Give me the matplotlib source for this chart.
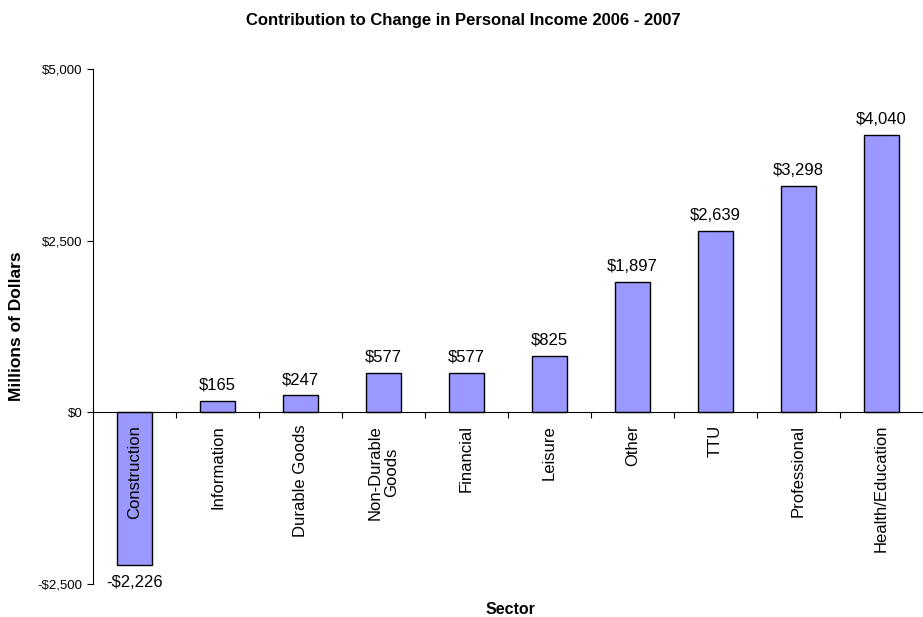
import matplotlib.pyplot as plt
import numpy as np

plt.rcParams['font.family'] = ['Liberation Sans', 'DejaVu Sans']

# data
sectors = ["Construction", "Information", "Durable Goods", "Non-Durable\nGoods",
           "Financial", "Leisure", "Other", "TTU", "Professional", "Health/Education"]
change = [-2226, 165, 247, 577, 577, 825, 1897, 2639, 3298, 4040]
y_ticks = [-2500, 0, 2500, 5000]

fig = plt.figure(figsize=(9.23, 6.17), dpi=100)
ax = fig.add_axes([93 / 923, 1 - 584 / 617, 1 - 93 / 923, (584 - 69) / 617])

x = np.arange(len(sectors))
ax.bar(x, change, width=0.41, color="#9999FF", edgecolor="black", linewidth=1.0, zorder=1)

for xi, v in zip(x, change):
    txt = f"${v:,}" if v >= 0 else f"-${-v:,}"
    if v >= 0:
        ax.annotate(txt, (xi, v), xytext=(0, 6), textcoords="offset points",
                    ha="center", va="bottom", fontsize=12)
    else:
        ax.annotate(txt, (xi, v), xytext=(0, -7), textcoords="offset points",
                    ha="center", va="top", fontsize=12)

ax.set_xlim(-0.5, (923 - 93) / 83.8 - 0.5)
ax.set_ylim(-2500, 5000)
ax.set_yticks(y_ticks)
ax.set_yticklabels(["-$2,500", "$0", "$2,500", "$5,000"])
ax.tick_params(axis="y", direction="out", length=4, labelsize=9.5, width=0.8)

# category axis sits on the zero line
ax.spines["bottom"].set_position(("data", 0))
ax.spines["top"].set_visible(False)
ax.spines["right"].set_visible(False)
ax.spines["left"].set_linewidth(0.8)
ax.spines["bottom"].set_linewidth(0.8)
ax.set_xticks(x)
ax.set_xticklabels(sectors, rotation=90, fontsize=12, va="top", ha="center",
                   multialignment="center", linespacing=1.15)
ax.set_xticks(np.arange(len(sectors)) + 0.5, minor=True)
ax.tick_params(axis="x", which="major", length=0, pad=9)
ax.tick_params(axis="x", which="minor", direction="out", length=4, width=0.8)

ax.set_ylabel("Millions of Dollars", fontsize=12.5, fontweight="bold", labelpad=10)
fig.text(0.502, 1 - 20 / 617, "Contribution to Change in Personal Income 2006 - 2007",
         ha="center", va="center", fontsize=12, fontweight="bold")
fig.text(510 / 923, 1 - 609 / 617, "Sector", ha="center", va="center",
         fontsize=11.5, fontweight="bold")

fig.savefig("out.png", dpi=100)
